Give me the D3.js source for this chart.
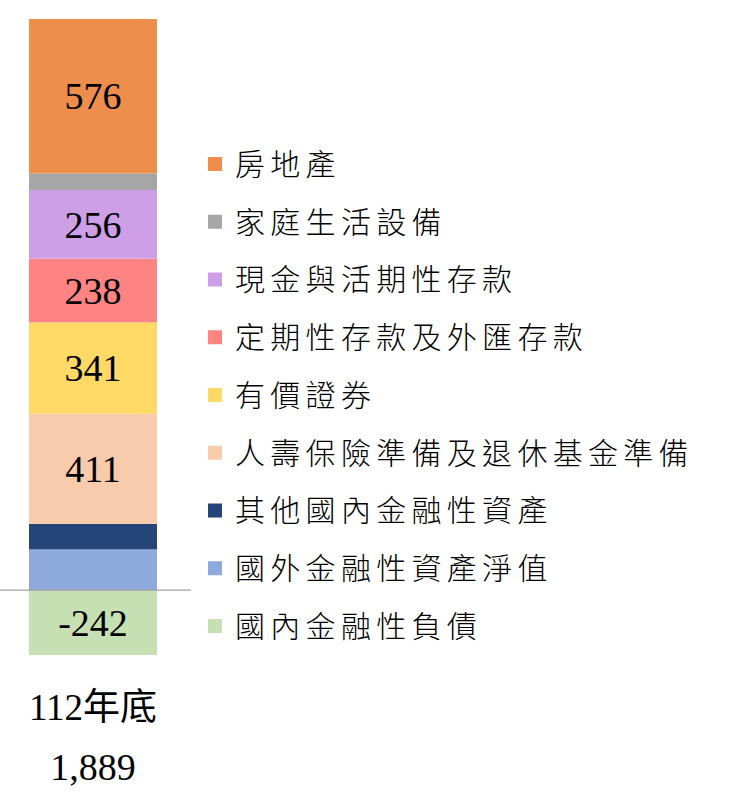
<!DOCTYPE html>
<html><head><meta charset="utf-8">
<script src="https://cdn.jsdelivr.net/npm/d3@7"></script>
<style>body{margin:0;background:#fff;}svg{display:block;}</style>
</head><body>
<svg id="c" width="740" height="812"></svg>
<script>
// Legend order (top to bottom) = stack order top to bottom
const categories = ["房地產","家庭生活設備","現金與活期性存款","定期性存款及外匯存款","有價證券","人壽保險準備及退休基金準備","其他國內金融性資產","國外金融性資產淨值","國內金融性負債"];
const values = [576, 62, 256, 238, 341, 411, 95, 152, -242];
const showLabel = [true, false, true, true, true, true, false, false, true];
const colors = ["#EE8E4C","#A6A6A6","#CC9FE6","#FE8383","#FFD966","#F8CBAD","#254477","#8EA9DB","#C6E0B4"];
const periodLabel = "112年底";
const totalLabel = "1,889";

const svg = d3.select("#c");
const posSum = d3.sum(values.filter(v => v > 0));
const negSum = d3.sum(values.filter(v => v < 0));
const y = d3.scaleLinear().domain([negSum, posSum]).range([655, 19]);
const x = d3.scaleBand().domain([periodLabel]).range([29, 157]).padding(0);

const segs = [];
let pos = 0, neg = 0;
for (let i = categories.length - 1; i >= 0; i--) {
  const v = values[i];
  let y0, y1;
  if (v >= 0) { y0 = pos; y1 = pos + v; pos = y1; }
  else { y0 = neg + v; y1 = neg; neg = y0; }
  segs.push({name: categories[i], v, y0, y1, color: colors[i], label: showLabel[i]});
}

const bx = x(periodLabel), bw = x.bandwidth();
svg.selectAll("rect.seg").data(segs).join("rect").attr("class","seg")
  .attr("x", bx).attr("width", bw)
  .attr("y", d => y(d.y1)).attr("height", d => y(d.y0) - y(d.y1))
  .attr("fill", d => d.color);

svg.append("line").attr("x1", 0).attr("x2", 191).attr("y1", y(0)).attr("y2", y(0))
  .attr("stroke", "#A0A0A0").attr("stroke-width", 1.3);

svg.selectAll("text.val").data(segs.filter(d => d.label)).join("text").attr("class","val")
  .attr("x", bx + bw/2).attr("y", d => (y(d.y0) + y(d.y1))/2)
  .attr("dy", "0.35em").attr("text-anchor","middle")
  .attr("font-family","'Liberation Serif','Times New Roman',serif").attr("font-size", 38)
  .attr("fill","#000").text(d => d.v);

svg.append("text").attr("x", bx + bw/2).attr("y", 720).attr("text-anchor","middle")
  .attr("font-family","'Liberation Serif','Noto Sans CJK TC',serif").attr("font-size", 37)
  .attr("fill","#000").text(periodLabel);
svg.append("text").attr("x", bx + bw/2).attr("y", 780).attr("text-anchor","middle")
  .attr("font-family","'Liberation Serif',serif").attr("font-size", 38)
  .attr("fill","#000").text(totalLabel);

const ly = d3.scalePoint().domain(categories).range([164, 626]);
const lg = svg.selectAll("g.leg").data(categories).join("g").attr("class","leg")
  .attr("transform", d => `translate(208,${ly(d)})`);
lg.append("rect").attr("x",0).attr("y",-7).attr("width",14).attr("height",14)
  .attr("fill", (d,i) => colors[i]);
lg.append("text").attr("x", 27).attr("dy","0.36em")
  .attr("font-family","'Noto Sans CJK TC','Noto Sans CJK SC',sans-serif").attr("font-size", 30)
  .attr("letter-spacing", "5.3px").attr("font-weight", 300)
  .attr("fill","#000").text(d => d);
</script>
</body></html>
